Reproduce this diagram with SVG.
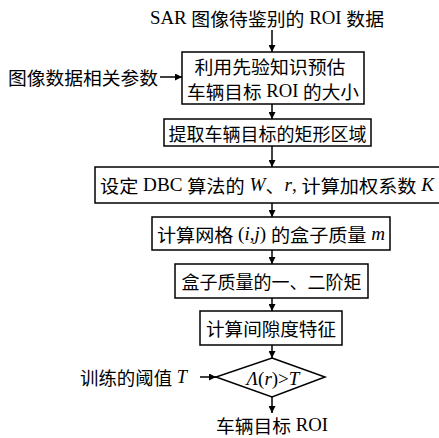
<svg xmlns="http://www.w3.org/2000/svg" width="439" height="438" viewBox="0 0 439 438">
<defs>
<marker id="ah" viewBox="0 0 10 10" refX="10" refY="5" markerWidth="7" markerHeight="7" markerUnits="userSpaceOnUse" orient="auto">
<path d="M0,0 L10,5 L0,10 z" fill="#000"/>
</marker>
</defs>
<style>
.t{font-family:"Noto Sans CJK SC",sans-serif;font-size:18px;fill:#000;dominant-baseline:central}
.l{font-family:"Liberation Serif",serif}
.m{text-anchor:middle}
.i{font-family:"Liberation Serif",serif;font-style:italic}
.b{fill:#fff;stroke:#000;stroke-width:1.5}
.c{fill:none;stroke:#000;stroke-width:1.5;marker-end:url(#ah)}
</style>
<rect width="439" height="438" fill="#fff"/>
<g id="connectors">
<path class="c" d="M272,30 V52"/>
<path class="c" d="M160,77 H182"/>
<path class="c" d="M272,104 V119"/>
<path class="c" d="M272,146 V167"/>
<path class="c" d="M272,203 V217"/>
<path class="c" d="M272,250 V264"/>
<path class="c" d="M272,298 V311"/>
<path class="c" d="M272,345 V358"/>
<path class="c" d="M200,377 H216"/>
<path class="c" d="M272,397 V413"/>
</g>
<g id="input"><text class="t m" x="267" y="18" textLength="234" lengthAdjust="spacingAndGlyphs"><tspan class="l">SAR </tspan>图像待鉴别的<tspan class="l"> ROI </tspan>数据</text></g>
<g id="params"><text class="t" x="8" y="77" textLength="150" lengthAdjust="spacingAndGlyphs">图像数据相关参数</text></g>
<g id="n1"><rect class="b" x="182" y="52" width="182" height="52"/>
<text class="t m" x="270" y="66" textLength="151" lengthAdjust="spacingAndGlyphs">利用先验知识预估</text>
<text class="t m" x="273" y="91" textLength="172" lengthAdjust="spacingAndGlyphs">车辆目标<tspan class="l"> ROI </tspan>的大小</text></g>
<g id="n2"><rect class="b" x="164" y="119" width="207" height="27"/>
<text class="t m" x="267.5" y="132.5" textLength="198" lengthAdjust="spacingAndGlyphs">提取车辆目标的矩形区域</text></g>
<g id="n3"><rect class="b" x="95" y="167" width="350" height="36"/>
<text class="t" x="100" y="185" textLength="334" lengthAdjust="spacingAndGlyphs">设定<tspan class="l"> DBC </tspan>算法的<tspan class="l"> </tspan><tspan class="i">W</tspan>、<tspan class="i">r</tspan><tspan class="l">, </tspan>计算加权系数<tspan class="l"> </tspan><tspan class="i">K</tspan></text></g>
<g id="n4"><rect class="b" x="152" y="217" width="238" height="33"/>
<text class="t" x="157" y="234" textLength="228" lengthAdjust="spacingAndGlyphs">计算网格<tspan class="l"> (</tspan><tspan class="i">i</tspan><tspan class="l">,</tspan><tspan class="i">j</tspan><tspan class="l">) </tspan>的盒子质量<tspan class="l"> </tspan><tspan class="i">m</tspan></text></g>
<g id="n5"><rect class="b" x="175" y="264" width="193" height="34"/>
<text class="t m" x="271.5" y="281" textLength="180" lengthAdjust="spacingAndGlyphs">盒子质量的一、二阶矩</text></g>
<g id="n6"><rect class="b" x="200" y="311" width="142" height="34"/>
<text class="t m" x="271" y="328" textLength="130" lengthAdjust="spacingAndGlyphs">计算间隙度特征</text></g>
<g id="threshold"><text class="t" x="80" y="377" textLength="107" lengthAdjust="spacingAndGlyphs">训练的阈值<tspan class="l"> </tspan><tspan class="i">T</tspan></text></g>
<g id="d1"><path class="b" d="M272,358 L325,377 L272,397 L216,377 z"/>
<text class="t m" x="273" y="378" style="font-size:19px"><tspan class="i">Λ</tspan><tspan class="l">(</tspan><tspan class="i">r</tspan><tspan class="l">)&gt;</tspan><tspan class="i">T</tspan></text></g>
<g id="output"><text class="t m" x="272" y="425" textLength="112" lengthAdjust="spacingAndGlyphs">车辆目标<tspan class="l"> ROI</tspan></text></g>
</svg>
